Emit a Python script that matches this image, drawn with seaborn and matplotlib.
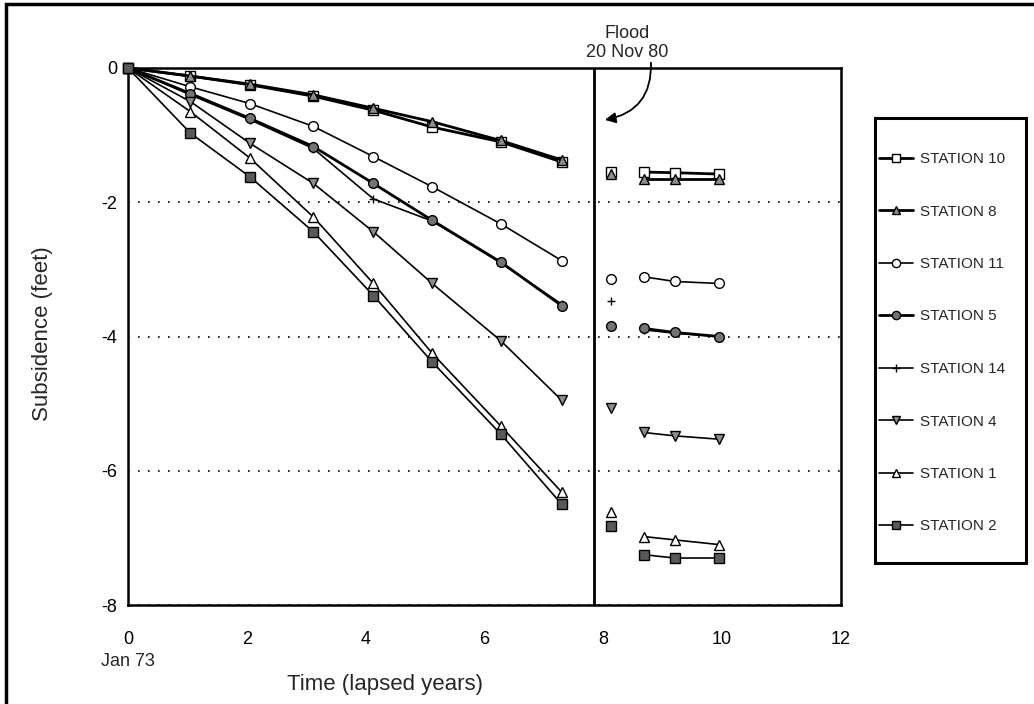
import matplotlib
matplotlib.use("Agg")
import matplotlib.pyplot as plt
import matplotlib.patches as mpatches
from matplotlib.ticker import MultipleLocator
import seaborn as sns

# ---- data ----
years_pre = [0, 1.05, 2.05, 3.12, 4.13, 5.12, 6.27, 7.3]
year_flood_obs = 8.13
years_post = [8.68, 9.2, 9.95]
flood_year = 7.85

stations = ["STATION 10", "STATION 8", "STATION 11", "STATION 5",
            "STATION 14", "STATION 4", "STATION 1", "STATION 2"]

pre_10 = [0, -0.12, -0.25, -0.42, -0.63, -0.88, -1.1, -1.4]
pre_8 = [0, -0.12, -0.24, -0.4, -0.6, -0.8, -1.08, -1.37]
pre_11 = [0, -0.28, -0.53, -0.87, -1.32, -1.77, -2.32, -2.87]
pre_5 = [0, -0.38, -0.75, -1.17, -1.72, -2.27, -2.89, -3.54]
pre_14 = [0, -0.4, -0.77, -1.2, -1.95, -2.28, -2.9, -3.52]
pre_4 = [0, -0.5, -1.12, -1.72, -2.44, -3.21, -4.06, -4.95]
pre_1 = [0, -0.65, -1.34, -2.22, -3.21, -4.25, -5.33, -6.32]
pre_2 = [0, -0.97, -1.62, -2.44, -3.39, -4.38, -5.45, -6.5]

flood_obs = [-1.55, -1.58, -3.15, -3.85, -3.47, -5.07, -6.62, -6.82]

post_10 = [-1.55, -1.56, -1.58]
post_8 = [-1.65, -1.65, -1.65]
post_11 = [-3.11, -3.18, -3.21]
post_5 = [-3.88, -3.94, -4.0]
post_14 = [-3.9, -3.95, -4.0]
post_4 = [-5.43, -5.48, -5.53]
post_1 = [-6.98, -7.03, -7.1]
post_2 = [-7.25, -7.3, -7.3]

pre_all = [pre_10, pre_8, pre_11, pre_5, pre_14, pre_4, pre_1, pre_2]
post_all = [post_10, post_8, post_11, post_5, post_14, post_4, post_1, post_2]

# marker style per station: (marker, facecolor, size, linewidth, zorder)
styles = [("s", "white", 7, 2.0, 3),
          ("^", "0.55", 7, 2.0, 3),
          ("o", "white", 7, 1.2, 3),
          ("o", "0.45", 7, 2.0, 3),
          ("+", "black", 6, 1.2, 2),
          ("v", "0.55", 7, 1.2, 3),
          ("^", "white", 7, 1.2, 3),
          ("s", "0.35", 7, 1.2, 3)]

sns.set_style("white")
plt.rcParams["font.family"] = ["Liberation Sans", "DejaVu Sans"]
plt.rcParams["axes.unicode_minus"] = False

fig = plt.figure(figsize=(10.34, 7.04), dpi=100)
ax = fig.add_axes([128 / 1034, 1 - 605 / 704, 713 / 1034, 537 / 704])

for i, name in enumerate(stations):
    mk, fc, ms, lw, z = styles[i]
    kw = dict(color="black", marker=mk, markerfacecolor=fc, markeredgecolor="black",
              markersize=ms, markeredgewidth=1.0, clip_on=False, zorder=z)
    sns.lineplot(x=years_pre, y=pre_all[i], ax=ax, linewidth=lw, label=name, **kw)
    sns.lineplot(x=[year_flood_obs], y=[flood_obs[i]], ax=ax, linewidth=lw, **kw)
    sns.lineplot(x=years_post, y=post_all[i], ax=ax, linewidth=lw, **kw)

if ax.get_legend() is not None:
    ax.get_legend().remove()

ax.axvline(flood_year, color="black", linewidth=2)

ax.set_xlim(0, 12)
ax.set_ylim(-8, 0)
ax.xaxis.set_major_locator(MultipleLocator(2))
ax.xaxis.set_minor_locator(MultipleLocator(1))
ax.yaxis.set_major_locator(MultipleLocator(2))
ax.yaxis.set_minor_locator(MultipleLocator(1))
ax.tick_params(which="major", direction="inout", length=9, width=1.5,
               labelsize=13, colors="black")
ax.tick_params(which="minor", direction="inout", length=7, width=1.5)
ax.tick_params(axis="x", pad=14)
for s in ax.spines.values():
    s.set_color("black")
    s.set_linewidth(1.8)

ax.grid(axis="y", which="major", color="black", linestyle=(0, (1, 5)), linewidth=1.2)

ax.set_xlabel("Time (lapsed years)", fontsize=16)
ax.xaxis.set_label_coords((385 - 128) / 713, -0.128)
ax.set_ylabel("Subsidence (feet)", fontsize=16)
ax.yaxis.set_label_coords(-0.105, 0.506)

ax.annotate("Jan 73", xy=(0, -8), xytext=(0, -41), textcoords="offset points",
            ha="center", va="center", fontsize=13, annotation_clip=False)

# flood annotation
ax.text(8.4, 0.10, "Flood\n20 Nov 80", ha="center", va="bottom", fontsize=13,
        linespacing=1.15)
ax.annotate("", xy=(7.98, -0.78), xytext=(8.8, 0.12),
            arrowprops=dict(arrowstyle="-|>", color="black", lw=1.3,
                            mutation_scale=16,
                            connectionstyle="arc3,rad=-0.45"),
            annotation_clip=False)

# legend without frame, frame drawn as a separate box
handles, labels = ax.get_legend_handles_labels()
leg = fig.legend(handles, labels, loc="upper left",
                 bbox_to_anchor=(879 / 1034, 1 - 152 / 704),
                 borderaxespad=0, borderpad=0, frameon=False,
                 fontsize=11, labelspacing=2.52, handlelength=2.2,
                 handletextpad=0.5, markerscale=0.85)

fig.patches.append(mpatches.Rectangle((875 / 1034, 1 - 563 / 704), 151 / 1034, 445 / 704,
                                      transform=fig.transFigure, fill=False,
                                      edgecolor="black", linewidth=2.2))

fig.patches.append(mpatches.Rectangle((6 / 1034, -0.02), 1.0, 1 - 4 / 704 + 0.02,
                                      transform=fig.transFigure, fill=False,
                                      edgecolor="black", linewidth=2.5))

fig.savefig("out.png", dpi=100)
